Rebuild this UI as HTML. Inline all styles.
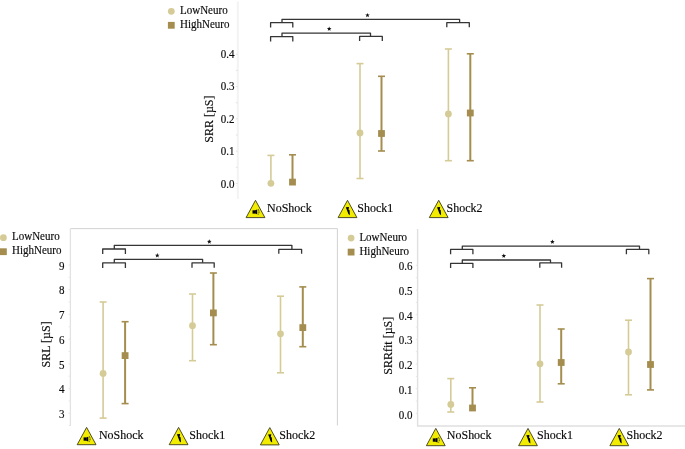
<!DOCTYPE html><html><head><meta charset="utf-8"><style>html,body{margin:0;padding:0;background:#fff;}svg{display:block;will-change:transform;font-family:"Liberation Serif",serif;}text{fill:#0a0a0a;stroke:#0a0a0a;stroke-width:0.15px;}</style></head><body>
<svg width="685" height="449" viewBox="0 0 685 449">
<line x1="237.8" y1="1.5" x2="237.8" y2="199" stroke="#f3f3f3" stroke-width="2"/>
<line x1="235.8" y1="183.5" x2="237.8" y2="183.5" stroke="#e4e4e4" stroke-width="1"/>
<line x1="235.8" y1="167.3" x2="237.8" y2="167.3" stroke="#e4e4e4" stroke-width="1"/>
<line x1="235.8" y1="151.2" x2="237.8" y2="151.2" stroke="#e4e4e4" stroke-width="1"/>
<line x1="235.8" y1="135.0" x2="237.8" y2="135.0" stroke="#e4e4e4" stroke-width="1"/>
<line x1="235.8" y1="118.9" x2="237.8" y2="118.9" stroke="#e4e4e4" stroke-width="1"/>
<line x1="235.8" y1="102.8" x2="237.8" y2="102.8" stroke="#e4e4e4" stroke-width="1"/>
<line x1="235.8" y1="86.6" x2="237.8" y2="86.6" stroke="#e4e4e4" stroke-width="1"/>
<line x1="235.8" y1="70.4" x2="237.8" y2="70.4" stroke="#e4e4e4" stroke-width="1"/>
<line x1="235.8" y1="54.3" x2="237.8" y2="54.3" stroke="#e4e4e4" stroke-width="1"/>
<text transform="translate(234.6,187.9) scale(1.0,1.04)" font-size="11.0" text-anchor="end">0.0</text>
<text transform="translate(234.6,155.43) scale(1.0,1.04)" font-size="11.0" text-anchor="end">0.1</text>
<text transform="translate(234.6,122.95) scale(1.0,1.04)" font-size="11.0" text-anchor="end">0.2</text>
<text transform="translate(234.6,90.47) scale(1.0,1.04)" font-size="11.0" text-anchor="end">0.3</text>
<text transform="translate(234.6,58.0) scale(1.0,1.04)" font-size="11.0" text-anchor="end">0.4</text>
<text transform="translate(213.2,119.1) rotate(-90) scale(1.0,1.04)" font-size="12.0" text-anchor="middle">SRR [µS]</text>
<circle cx="171.3" cy="11.3" r="3.4" fill="#d5cb97"/><text transform="translate(180,13.9) scale(1.0,1.04)" font-size="11.0">LowNeuro</text><rect x="167.9" y="21.900000000000002" width="6.8" height="6.8" fill="#a48d4e"/><text transform="translate(180,27.900000000000002) scale(1.0,1.04)" font-size="11.0">HighNeuro</text>
<line x1="270.9" y1="155.4" x2="270.9" y2="183.3" stroke="#d5cb97" stroke-width="1.6"/><line x1="267.4" y1="155.4" x2="274.4" y2="155.4" stroke="#d5cb97" stroke-width="1.6"/><circle cx="270.9" cy="183.3" r="3.4" fill="#d5cb97"/>
<line x1="292.5" y1="154.8" x2="292.5" y2="182.1" stroke="#a48d4e" stroke-width="2.0"/><line x1="289.0" y1="154.8" x2="296.0" y2="154.8" stroke="#a48d4e" stroke-width="1.6"/><rect x="289.1" y="178.7" width="6.8" height="6.8" fill="#a48d4e"/>
<line x1="360.0" y1="63.6" x2="360.0" y2="178.5" stroke="#d5cb97" stroke-width="1.6"/><line x1="356.5" y1="63.6" x2="363.5" y2="63.6" stroke="#d5cb97" stroke-width="1.6"/><line x1="356.5" y1="178.5" x2="363.5" y2="178.5" stroke="#d5cb97" stroke-width="1.6"/><circle cx="360.0" cy="133.0" r="3.4" fill="#d5cb97"/>
<line x1="381.5" y1="76.3" x2="381.5" y2="151.0" stroke="#a48d4e" stroke-width="2.0"/><line x1="378.0" y1="76.3" x2="385.0" y2="76.3" stroke="#a48d4e" stroke-width="1.6"/><line x1="378.0" y1="151.0" x2="385.0" y2="151.0" stroke="#a48d4e" stroke-width="1.6"/><rect x="378.1" y="130.1" width="6.8" height="6.8" fill="#a48d4e"/>
<line x1="448.4" y1="49.0" x2="448.4" y2="160.7" stroke="#d5cb97" stroke-width="1.6"/><line x1="444.9" y1="49.0" x2="451.9" y2="49.0" stroke="#d5cb97" stroke-width="1.6"/><line x1="444.9" y1="160.7" x2="451.9" y2="160.7" stroke="#d5cb97" stroke-width="1.6"/><circle cx="448.4" cy="113.9" r="3.4" fill="#d5cb97"/>
<line x1="470.3" y1="53.8" x2="470.3" y2="160.7" stroke="#a48d4e" stroke-width="2.0"/><line x1="466.8" y1="53.8" x2="473.8" y2="53.8" stroke="#a48d4e" stroke-width="1.6"/><line x1="466.8" y1="160.7" x2="473.8" y2="160.7" stroke="#a48d4e" stroke-width="1.6"/><rect x="466.90000000000003" y="109.6" width="6.8" height="6.8" fill="#a48d4e"/>
<path d="M270.6,27.6 V22.7 H292.8 V27.6" fill="none" stroke="#353535" stroke-width="1.3" stroke-linejoin="round"/>
<path d="M282.0,22.7 V19.3 H459.6 V22.6" fill="none" stroke="#353535" stroke-width="1.3" stroke-linejoin="round"/>
<path d="M446.8,27.3 V22.6 H469.3 V27.3" fill="none" stroke="#353535" stroke-width="1.3" stroke-linejoin="round"/>
<polygon points="367.50,12.90 368.12,14.45 369.78,14.56 368.50,15.62 368.91,17.24 367.50,16.35 366.09,17.24 366.50,15.62 365.22,14.56 366.88,14.45" fill="#111"/>
<path d="M270.6,41.4 V36.6 H292.8 V41.4" fill="none" stroke="#353535" stroke-width="1.3" stroke-linejoin="round"/>
<path d="M282.0,36.6 V33.1 H370.5 V36.4" fill="none" stroke="#353535" stroke-width="1.3" stroke-linejoin="round"/>
<path d="M359.6,41.1 V36.4 H382.3 V41.1" fill="none" stroke="#353535" stroke-width="1.3" stroke-linejoin="round"/>
<polygon points="329.20,26.50 329.82,28.05 331.48,28.16 330.20,29.22 330.61,30.84 329.20,29.95 327.79,30.84 328.20,29.22 326.92,28.16 328.58,28.05" fill="#111"/>
<g transform="translate(255.5,200.3)"><path d="M0,0 L9.4,17.3 L-9.4,17.3 Z" fill="#f2ec00" stroke="#3c3a1c" stroke-width="0.9" stroke-linejoin="miter"/><rect x="-3.0" y="10.0" width="2.7" height="3.3" fill="#000"/><path d="M-0.4,10.0 L1.7,9.3 L1.7,14.0 L-0.4,13.3 Z" fill="#000"/><path d="M2.7,8.9 Q4.3,11.6 2.7,14.3" fill="none" stroke="#1a1a08" stroke-width="0.8" stroke-dasharray="1.6,0.7"/></g><text transform="translate(267.0,211.9) scale(1.0,1.04)" font-size="12.0">NoShock</text>
<g transform="translate(347.5,200.3)"><path d="M0,0 L9.4,17.3 L-9.4,17.3 Z" fill="#f2ec00" stroke="#3c3a1c" stroke-width="0.9" stroke-linejoin="miter"/><path d="M-1.7,6.9 L1.5,6.6 L1.0,9.5 L2.0,9.8 L2.4,15.0 L0.9,13.8 L-0.7,9.4 Z" fill="#000"/></g><text transform="translate(357.3,211.9) scale(1.0,1.04)" font-size="12.0">Shock1</text>
<g transform="translate(438.7,200.3)"><path d="M0,0 L9.4,17.3 L-9.4,17.3 Z" fill="#f2ec00" stroke="#3c3a1c" stroke-width="0.9" stroke-linejoin="miter"/><path d="M-1.7,6.9 L1.5,6.6 L1.0,9.5 L2.0,9.8 L2.4,15.0 L0.9,13.8 L-0.7,9.4 Z" fill="#000"/></g><text transform="translate(446.6,211.9) scale(1.0,1.04)" font-size="12.0">Shock2</text>
<path d="M70.4,228.6 H337.4 V425.5" fill="none" stroke="#d2d2d2" stroke-width="1"/>
<line x1="70.4" y1="228.6" x2="70.4" y2="425.6" stroke="#e2e2e2" stroke-width="1.3"/>
<line x1="69" y1="425.5" x2="70.5" y2="425.5" stroke="#e2e2e2" stroke-width="1"/>
<line x1="68.6" y1="413.3" x2="70.5" y2="413.3" stroke="#e6e6e6" stroke-width="1"/>
<line x1="68.6" y1="400.9" x2="70.5" y2="400.9" stroke="#e6e6e6" stroke-width="1"/>
<line x1="68.6" y1="388.6" x2="70.5" y2="388.6" stroke="#e6e6e6" stroke-width="1"/>
<line x1="68.6" y1="376.2" x2="70.5" y2="376.2" stroke="#e6e6e6" stroke-width="1"/>
<line x1="68.6" y1="363.9" x2="70.5" y2="363.9" stroke="#e6e6e6" stroke-width="1"/>
<line x1="68.6" y1="351.5" x2="70.5" y2="351.5" stroke="#e6e6e6" stroke-width="1"/>
<line x1="68.6" y1="339.1" x2="70.5" y2="339.1" stroke="#e6e6e6" stroke-width="1"/>
<line x1="68.6" y1="326.8" x2="70.5" y2="326.8" stroke="#e6e6e6" stroke-width="1"/>
<line x1="68.6" y1="314.4" x2="70.5" y2="314.4" stroke="#e6e6e6" stroke-width="1"/>
<line x1="68.6" y1="302.1" x2="70.5" y2="302.1" stroke="#e6e6e6" stroke-width="1"/>
<line x1="68.6" y1="289.7" x2="70.5" y2="289.7" stroke="#e6e6e6" stroke-width="1"/>
<line x1="68.6" y1="277.3" x2="70.5" y2="277.3" stroke="#e6e6e6" stroke-width="1"/>
<line x1="68.6" y1="265.0" x2="70.5" y2="265.0" stroke="#e6e6e6" stroke-width="1"/>
<text transform="translate(64.6,418.1) scale(1.0,1.04)" font-size="11.0" text-anchor="end">3</text>
<text transform="translate(64.6,393.35) scale(1.0,1.04)" font-size="11.0" text-anchor="end">4</text>
<text transform="translate(64.6,368.6) scale(1.0,1.04)" font-size="11.0" text-anchor="end">5</text>
<text transform="translate(64.6,343.85) scale(1.0,1.04)" font-size="11.0" text-anchor="end">6</text>
<text transform="translate(64.6,319.1) scale(1.0,1.04)" font-size="11.0" text-anchor="end">7</text>
<text transform="translate(64.6,294.35) scale(1.0,1.04)" font-size="11.0" text-anchor="end">8</text>
<text transform="translate(64.6,269.6) scale(1.0,1.04)" font-size="11.0" text-anchor="end">9</text>
<text transform="translate(50,344.4) rotate(-90) scale(1.0,1.04)" font-size="12.0" text-anchor="middle">SRL [µS]</text>
<circle cx="3.4" cy="237.7" r="3.4" fill="#d5cb97"/><text transform="translate(12,240.29999999999998) scale(1.0,1.04)" font-size="11.0">LowNeuro</text><rect x="0.0" y="248.29999999999998" width="6.8" height="6.8" fill="#a48d4e"/><text transform="translate(12,254.29999999999998) scale(1.0,1.04)" font-size="11.0">HighNeuro</text>
<line x1="103.1" y1="302.0" x2="103.1" y2="418.1" stroke="#d5cb97" stroke-width="1.6"/><line x1="99.6" y1="302.0" x2="106.6" y2="302.0" stroke="#d5cb97" stroke-width="1.6"/><line x1="99.6" y1="418.1" x2="106.6" y2="418.1" stroke="#d5cb97" stroke-width="1.6"/><circle cx="103.1" cy="373.4" r="3.4" fill="#d5cb97"/>
<line x1="125.1" y1="321.7" x2="125.1" y2="403.6" stroke="#a48d4e" stroke-width="2.0"/><line x1="121.6" y1="321.7" x2="128.6" y2="321.7" stroke="#a48d4e" stroke-width="1.6"/><line x1="121.6" y1="403.6" x2="128.6" y2="403.6" stroke="#a48d4e" stroke-width="1.6"/><rect x="121.69999999999999" y="352.20000000000005" width="6.8" height="6.8" fill="#a48d4e"/>
<line x1="192.5" y1="294.0" x2="192.5" y2="360.7" stroke="#d5cb97" stroke-width="1.6"/><line x1="189.0" y1="294.0" x2="196.0" y2="294.0" stroke="#d5cb97" stroke-width="1.6"/><line x1="189.0" y1="360.7" x2="196.0" y2="360.7" stroke="#d5cb97" stroke-width="1.6"/><circle cx="192.5" cy="325.7" r="3.4" fill="#d5cb97"/>
<line x1="213.4" y1="273.0" x2="213.4" y2="344.7" stroke="#a48d4e" stroke-width="2.0"/><line x1="209.9" y1="273.0" x2="216.9" y2="273.0" stroke="#a48d4e" stroke-width="1.6"/><line x1="209.9" y1="344.7" x2="216.9" y2="344.7" stroke="#a48d4e" stroke-width="1.6"/><rect x="210.0" y="309.5" width="6.8" height="6.8" fill="#a48d4e"/>
<line x1="280.5" y1="296.2" x2="280.5" y2="372.8" stroke="#d5cb97" stroke-width="1.6"/><line x1="277.0" y1="296.2" x2="284.0" y2="296.2" stroke="#d5cb97" stroke-width="1.6"/><line x1="277.0" y1="372.8" x2="284.0" y2="372.8" stroke="#d5cb97" stroke-width="1.6"/><circle cx="280.5" cy="333.8" r="3.4" fill="#d5cb97"/>
<line x1="302.8" y1="286.9" x2="302.8" y2="346.7" stroke="#a48d4e" stroke-width="2.0"/><line x1="299.3" y1="286.9" x2="306.3" y2="286.9" stroke="#a48d4e" stroke-width="1.6"/><line x1="299.3" y1="346.7" x2="306.3" y2="346.7" stroke="#a48d4e" stroke-width="1.6"/><rect x="299.40000000000003" y="324.20000000000005" width="6.8" height="6.8" fill="#a48d4e"/>
<path d="M102.7,254.0 V249.0 H125.4 V254.0" fill="none" stroke="#353535" stroke-width="1.3" stroke-linejoin="round"/>
<path d="M114.3,249.0 V245.3 H291.9 V249.3" fill="none" stroke="#353535" stroke-width="1.3" stroke-linejoin="round"/>
<path d="M278.8,253.8 V249.3 H301.6 V253.8" fill="none" stroke="#353535" stroke-width="1.3" stroke-linejoin="round"/>
<polygon points="209.30,239.30 209.92,240.85 211.58,240.96 210.30,242.02 210.71,243.64 209.30,242.75 207.89,243.64 208.30,242.02 207.02,240.96 208.68,240.85" fill="#111"/>
<path d="M102.7,267.9 V262.9 H125.4 V267.9" fill="none" stroke="#353535" stroke-width="1.3" stroke-linejoin="round"/>
<path d="M114.3,262.9 V259.4 H202.6 V262.8" fill="none" stroke="#353535" stroke-width="1.3" stroke-linejoin="round"/>
<path d="M192.0,267.8 V262.8 H214.2 V267.8" fill="none" stroke="#353535" stroke-width="1.3" stroke-linejoin="round"/>
<polygon points="157.30,253.10 157.92,254.65 159.58,254.76 158.30,255.82 158.71,257.44 157.30,256.55 155.89,257.44 156.30,255.82 155.02,254.76 156.68,254.65" fill="#111"/>
<g transform="translate(86.6,427.4)"><path d="M0,0 L9.4,17.3 L-9.4,17.3 Z" fill="#f2ec00" stroke="#3c3a1c" stroke-width="0.9" stroke-linejoin="miter"/><rect x="-3.0" y="10.0" width="2.7" height="3.3" fill="#000"/><path d="M-0.4,10.0 L1.7,9.3 L1.7,14.0 L-0.4,13.3 Z" fill="#000"/><path d="M2.7,8.9 Q4.3,11.6 2.7,14.3" fill="none" stroke="#1a1a08" stroke-width="0.8" stroke-dasharray="1.6,0.7"/></g><text transform="translate(98.9,438.7) scale(1.0,1.04)" font-size="12.0">NoShock</text>
<g transform="translate(178.6,427.4)"><path d="M0,0 L9.4,17.3 L-9.4,17.3 Z" fill="#f2ec00" stroke="#3c3a1c" stroke-width="0.9" stroke-linejoin="miter"/><path d="M-1.7,6.9 L1.5,6.6 L1.0,9.5 L2.0,9.8 L2.4,15.0 L0.9,13.8 L-0.7,9.4 Z" fill="#000"/></g><text transform="translate(189.3,438.6) scale(1.0,1.04)" font-size="12.0">Shock1</text>
<g transform="translate(269.8,427.6)"><path d="M0,0 L9.4,17.3 L-9.4,17.3 Z" fill="#f2ec00" stroke="#3c3a1c" stroke-width="0.9" stroke-linejoin="miter"/><path d="M-1.7,6.9 L1.5,6.6 L1.0,9.5 L2.0,9.8 L2.4,15.0 L0.9,13.8 L-0.7,9.4 Z" fill="#000"/></g><text transform="translate(279.3,438.6) scale(1.0,1.04)" font-size="12.0">Shock2</text>
<path d="M417.6,229 V426 H685" fill="none" stroke="#e0e0e0" stroke-width="1.4"/>
<line x1="415.8" y1="413.4" x2="417.6" y2="413.4" stroke="#e6e6e6" stroke-width="1"/>
<line x1="415.8" y1="401.1" x2="417.6" y2="401.1" stroke="#e6e6e6" stroke-width="1"/>
<line x1="415.8" y1="388.7" x2="417.6" y2="388.7" stroke="#e6e6e6" stroke-width="1"/>
<line x1="415.8" y1="376.4" x2="417.6" y2="376.4" stroke="#e6e6e6" stroke-width="1"/>
<line x1="415.8" y1="364.1" x2="417.6" y2="364.1" stroke="#e6e6e6" stroke-width="1"/>
<line x1="415.8" y1="351.7" x2="417.6" y2="351.7" stroke="#e6e6e6" stroke-width="1"/>
<line x1="415.8" y1="339.4" x2="417.6" y2="339.4" stroke="#e6e6e6" stroke-width="1"/>
<line x1="415.8" y1="327.1" x2="417.6" y2="327.1" stroke="#e6e6e6" stroke-width="1"/>
<line x1="415.8" y1="314.7" x2="417.6" y2="314.7" stroke="#e6e6e6" stroke-width="1"/>
<line x1="415.8" y1="302.4" x2="417.6" y2="302.4" stroke="#e6e6e6" stroke-width="1"/>
<line x1="415.8" y1="290.0" x2="417.6" y2="290.0" stroke="#e6e6e6" stroke-width="1"/>
<line x1="415.8" y1="277.7" x2="417.6" y2="277.7" stroke="#e6e6e6" stroke-width="1"/>
<line x1="415.8" y1="265.4" x2="417.6" y2="265.4" stroke="#e6e6e6" stroke-width="1"/>
<text transform="translate(412.6,418.7) scale(1.0,1.04)" font-size="11.0" text-anchor="end">0.0</text>
<text transform="translate(412.6,393.95) scale(1.0,1.04)" font-size="11.0" text-anchor="end">0.1</text>
<text transform="translate(412.6,369.2) scale(1.0,1.04)" font-size="11.0" text-anchor="end">0.2</text>
<text transform="translate(412.6,344.45) scale(1.0,1.04)" font-size="11.0" text-anchor="end">0.3</text>
<text transform="translate(412.6,319.7) scale(1.0,1.04)" font-size="11.0" text-anchor="end">0.4</text>
<text transform="translate(412.6,294.95) scale(1.0,1.04)" font-size="11.0" text-anchor="end">0.5</text>
<text transform="translate(412.6,270.2) scale(1.0,1.04)" font-size="11.0" text-anchor="end">0.6</text>
<text transform="translate(392,345.7) rotate(-90) scale(1.0,1.04)" font-size="12.0" text-anchor="middle">SRRfit [µS]</text>
<circle cx="351.1" cy="238.1" r="3.4" fill="#d5cb97"/><text transform="translate(359.4,240.7) scale(1.0,1.04)" font-size="11.0">LowNeuro</text><rect x="347.70000000000005" y="248.7" width="6.8" height="6.8" fill="#a48d4e"/><text transform="translate(359.4,254.7) scale(1.0,1.04)" font-size="11.0">HighNeuro</text>
<line x1="450.8" y1="378.6" x2="450.8" y2="412.0" stroke="#d5cb97" stroke-width="1.6"/><line x1="447.3" y1="378.6" x2="454.3" y2="378.6" stroke="#d5cb97" stroke-width="1.6"/><line x1="447.3" y1="412.0" x2="454.3" y2="412.0" stroke="#d5cb97" stroke-width="1.6"/><circle cx="450.8" cy="404.5" r="3.4" fill="#d5cb97"/>
<line x1="472.5" y1="387.8" x2="472.5" y2="408.0" stroke="#a48d4e" stroke-width="2.0"/><line x1="469.0" y1="387.8" x2="476.0" y2="387.8" stroke="#a48d4e" stroke-width="1.6"/><rect x="469.1" y="404.6" width="6.8" height="6.8" fill="#a48d4e"/>
<line x1="540.0" y1="305.0" x2="540.0" y2="402.0" stroke="#d5cb97" stroke-width="1.6"/><line x1="536.5" y1="305.0" x2="543.5" y2="305.0" stroke="#d5cb97" stroke-width="1.6"/><line x1="536.5" y1="402.0" x2="543.5" y2="402.0" stroke="#d5cb97" stroke-width="1.6"/><circle cx="540.0" cy="363.8" r="3.4" fill="#d5cb97"/>
<line x1="561.2" y1="329.0" x2="561.2" y2="383.8" stroke="#a48d4e" stroke-width="2.0"/><line x1="557.7" y1="329.0" x2="564.7" y2="329.0" stroke="#a48d4e" stroke-width="1.6"/><line x1="557.7" y1="383.8" x2="564.7" y2="383.8" stroke="#a48d4e" stroke-width="1.6"/><rect x="557.8000000000001" y="359.1" width="6.8" height="6.8" fill="#a48d4e"/>
<line x1="628.5" y1="320.2" x2="628.5" y2="394.8" stroke="#d5cb97" stroke-width="1.6"/><line x1="625.0" y1="320.2" x2="632.0" y2="320.2" stroke="#d5cb97" stroke-width="1.6"/><line x1="625.0" y1="394.8" x2="632.0" y2="394.8" stroke="#d5cb97" stroke-width="1.6"/><circle cx="628.5" cy="352.0" r="3.4" fill="#d5cb97"/>
<line x1="650.5" y1="278.6" x2="650.5" y2="389.9" stroke="#a48d4e" stroke-width="2.0"/><line x1="647.0" y1="278.6" x2="654.0" y2="278.6" stroke="#a48d4e" stroke-width="1.6"/><line x1="647.0" y1="389.9" x2="654.0" y2="389.9" stroke="#a48d4e" stroke-width="1.6"/><rect x="647.1" y="361.1" width="6.8" height="6.8" fill="#a48d4e"/>
<path d="M450.6,254.3 V249.4 H472.9 V254.3" fill="none" stroke="#353535" stroke-width="1.3" stroke-linejoin="round"/>
<path d="M462.3,249.4 V246.1 H639.5 V249.4" fill="none" stroke="#353535" stroke-width="1.3" stroke-linejoin="round"/>
<path d="M626.4,254.2 V249.4 H648.8 V254.2" fill="none" stroke="#353535" stroke-width="1.3" stroke-linejoin="round"/>
<polygon points="552.40,239.50 553.02,241.05 554.68,241.16 553.40,242.22 553.81,243.84 552.40,242.95 550.99,243.84 551.40,242.22 550.12,241.16 551.78,241.05" fill="#111"/>
<path d="M450.6,268.1 V263.3 H472.9 V268.1" fill="none" stroke="#353535" stroke-width="1.3" stroke-linejoin="round"/>
<path d="M462.3,263.3 V260.0 H550.5 V262.9" fill="none" stroke="#353535" stroke-width="1.3" stroke-linejoin="round"/>
<path d="M539.8,267.7 V262.9 H561.6 V267.7" fill="none" stroke="#353535" stroke-width="1.3" stroke-linejoin="round"/>
<polygon points="503.80,253.50 504.42,255.05 506.08,255.16 504.80,256.22 505.21,257.84 503.80,256.95 502.39,257.84 502.80,256.22 501.52,255.16 503.18,255.05" fill="#111"/>
<g transform="translate(435.8,428.4)"><path d="M0,0 L9.4,17.3 L-9.4,17.3 Z" fill="#f2ec00" stroke="#3c3a1c" stroke-width="0.9" stroke-linejoin="miter"/><rect x="-3.0" y="10.0" width="2.7" height="3.3" fill="#000"/><path d="M-0.4,10.0 L1.7,9.3 L1.7,14.0 L-0.4,13.3 Z" fill="#000"/><path d="M2.7,8.9 Q4.3,11.6 2.7,14.3" fill="none" stroke="#1a1a08" stroke-width="0.8" stroke-dasharray="1.6,0.7"/></g><text transform="translate(446.8,438.7) scale(1.0,1.04)" font-size="12.0">NoShock</text>
<g transform="translate(528.0,428.4)"><path d="M0,0 L9.4,17.3 L-9.4,17.3 Z" fill="#f2ec00" stroke="#3c3a1c" stroke-width="0.9" stroke-linejoin="miter"/><path d="M-1.7,6.9 L1.5,6.6 L1.0,9.5 L2.0,9.8 L2.4,15.0 L0.9,13.8 L-0.7,9.4 Z" fill="#000"/></g><text transform="translate(537.0,438.5) scale(1.0,1.04)" font-size="12.0">Shock1</text>
<g transform="translate(619.3,428.4)"><path d="M0,0 L9.4,17.3 L-9.4,17.3 Z" fill="#f2ec00" stroke="#3c3a1c" stroke-width="0.9" stroke-linejoin="miter"/><path d="M-1.7,6.9 L1.5,6.6 L1.0,9.5 L2.0,9.8 L2.4,15.0 L0.9,13.8 L-0.7,9.4 Z" fill="#000"/></g><text transform="translate(626.6,438.5) scale(1.0,1.04)" font-size="12.0">Shock2</text>
</svg></body></html>
